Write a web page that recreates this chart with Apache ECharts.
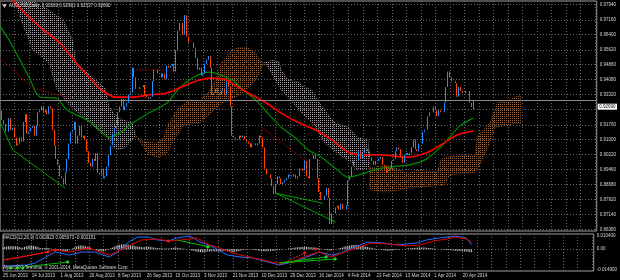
<!DOCTYPE html>
<html>
<head>
<meta charset="utf-8">
<script src="https://cdn.jsdelivr.net/npm/echarts@6/dist/echarts.min.js"></script>
<style>
  html, body { margin: 0; background: #000; }
  #chart { width: 620px; height: 280px; }
</style>
</head>
<body>
<div id="chart"></div>
<script>
// bar index 0 = 25 Jun 2013, one bar per day Sun..Fri
const dateLabels = ['25 Jun 2013', '14 Jul 2013', '1 Aug 2013', '20 Aug 2013', '8 Sep 2013', '26 Sep 2013',
  '15 Oct 2013', '3 Nov 2013', '21 Nov 2013', '10 Dec 2013', '29 Dec 2013', '16 Jan 2014', '4 Feb 2014',
  '23 Feb 2014', '13 Mar 2014', '1 Apr 2014', '20 Apr 2014']

// price tick labels (right axis), grid values
const priceTicks = [0.86380, 0.87140, 0.87920, 0.88680, 0.89460, 0.90220, 0.91000, 0.91760, 0.92540,
  0.93320, 0.94080, 0.94860, 0.95620, 0.96400, 0.97160, 0.97940]
const priceLabels = [0.86380, 0.87140, 0.87920, 0.88680, 0.89460, 0.90220, 0.91000, 0.91760,
  0.93320, 0.94080, 0.94860, 0.95620, 0.96400, 0.97160, 0.97940]

// last bar O H L C (title)
const lastBar = [0.92669, 0.92981, 0.92537, 0.92690]
const firstOpen = 0.9220

// daily closes
const closes = [
  0.9250, 0.9200, 0.9180, 0.9140,
  0.9140, 0.9210, 0.9150, 0.9160, 0.9110, 0.9070,
  0.9080, 0.9110, 0.9090, 0.9190, 0.9230, 0.9130,
  0.9140, 0.9160, 0.9170, 0.9120, 0.9170, 0.9240,
  0.9250, 0.9270, 0.9240, 0.9250, 0.9230, 0.9270,
  0.9260, 0.9150, 0.9070, 0.9000, 0.8970, 0.8910,
  0.8900, 0.8870, 0.8930, 0.9000, 0.9080, 0.9140,
  0.9150, 0.9190, 0.9080, 0.9120, 0.9170, 0.9110,
  0.9120, 0.9100, 0.9040, 0.8980, 0.8960, 0.9000,
  0.8990, 0.9030, 0.8930, 0.8920, 0.8950, 0.8900,
  0.8910, 0.8960, 0.9020, 0.9070, 0.9130, 0.9160,
  0.9170, 0.9240, 0.9270, 0.9310, 0.9250, 0.9270,
  0.9290, 0.9330, 0.9340, 0.9470, 0.9420, 0.9360,
  0.9360, 0.9370, 0.9370, 0.9380, 0.9330, 0.9320,
  0.9310, 0.9320, 0.9400, 0.9460, 0.9460, 0.9440,
  0.9440, 0.9420, 0.9440, 0.9410, 0.9480, 0.9470,
  0.9480, 0.9490, 0.9450, 0.9560, 0.9660, 0.9700,
  0.9700, 0.9640, 0.9740, 0.9630, 0.9600, 0.9600,
  0.9600, 0.9570, 0.9520, 0.9460, 0.9470, 0.9430,
  0.9440, 0.9490, 0.9510, 0.9530, 0.9470, 0.9330,
  0.9340, 0.9360, 0.9340, 0.9330, 0.9350, 0.9360,
  0.9330, 0.9400, 0.9370, 0.9270, 0.9120, 0.9110,
  0.9100, 0.9100, 0.9120, 0.9110, 0.9120, 0.9100,
  0.9090, 0.9080, 0.9060, 0.9080, 0.9080, 0.9070,
  0.9080, 0.9120, 0.9110, 0.9060, 0.8950, 0.8920,
  0.8920, 0.8900, 0.8860, 0.8820, 0.8870, 0.8910,
  0.8900, 0.8870, 0.8880, 0.8890, 0.8900, 0.8920,
  0.8915, 0.8910, 0.8920, 0.8900, 0.8910, 0.8950,
  0.8950, 0.8940, 0.8990, 0.8910, 0.8900, 0.9000,
  0.9000, 0.9020, 0.9000, 0.8900, 0.8830, 0.8790,
  0.8790, 0.8810, 0.8850, 0.8800, 0.8665, 0.8720,
  0.8720, 0.8750, 0.8760, 0.8740, 0.8770, 0.8740,
  0.8740, 0.8760, 0.8890, 0.8910, 0.8960, 0.8990,
  0.8990, 0.8990, 0.9040, 0.9000, 0.9030, 0.9050,
  0.9050, 0.9040, 0.9010, 0.8990, 0.8970, 0.8990,
  0.8990, 0.9000, 0.9010, 0.8970, 0.8960, 0.8930,
  0.8940, 0.8950, 0.8990, 0.9000, 0.9040, 0.9060,
  0.9050, 0.9010, 0.8980, 0.9020, 0.9030, 0.9020,
  0.9030, 0.9060, 0.9100, 0.9050, 0.9040, 0.9080,
  0.9080, 0.9140, 0.9150, 0.9150, 0.9220, 0.9240,
  0.9240, 0.9270, 0.9250, 0.9220, 0.9250, 0.9240,
  0.9240, 0.9290, 0.9370, 0.9450, 0.9420, 0.9400,
  0.9400, 0.9390, 0.9320, 0.9370, 0.9350, 0.9340,
  0.9340, 0.9350, 0.9350, 0.9290, 0.9267, 0.92690
]

// moving averages [bar, price]
const redMA = [[0, 0.9880], [11, 0.9777], [22, 0.9679], [33, 0.9597], [42, 0.9494], [49, 0.9422],
  [56, 0.9355], [64, 0.9318], [73, 0.9318], [82, 0.9329], [92, 0.9339], [100, 0.9370], [110, 0.9406],
  [117, 0.9416], [125, 0.9406], [132, 0.9365], [146, 0.9293], [155, 0.9236], [165, 0.9185],
  [174, 0.9149], [183, 0.9097], [192, 0.9035], [201, 0.9020], [210, 0.9020], [225, 0.9009],
  [236, 0.9035], [243, 0.9072], [252, 0.9123], [261, 0.9144]]
const greenMA = [[0, 0.9684], [5, 0.9612], [11, 0.9509], [16, 0.9422], [22, 0.9319], [31, 0.9313],
  [37, 0.9252], [48, 0.9200], [55, 0.9149], [60, 0.9113], [66, 0.9133], [73, 0.9185], [82, 0.9236],
  [92, 0.9288], [99, 0.9365], [107, 0.9422], [115, 0.9447], [128, 0.9406], [134, 0.9355],
  [141, 0.9303], [146, 0.9252], [155, 0.9164], [163, 0.9108], [170, 0.9046], [177, 0.9010],
  [186, 0.8943], [192, 0.8906], [201, 0.8927], [210, 0.8953], [219, 0.8963], [225, 0.8968],
  [234, 0.8994], [243, 0.9061], [248, 0.9113], [254, 0.9174], [261, 0.9210]]

// ichimoku cloud pieces: upper edge, lower edge, bullish (span A on top)
const cloudTop1 = [[5, 0.9973], [18, 0.9813], [27, 0.9767], [35, 0.9715], [40, 0.9612], [42, 0.9494],
  [51, 0.9422], [58, 0.9365], [60, 0.9278], [64, 0.9216], [73, 0.9185], [75, 0.9118]]
const cloudBot1 = [[5, 0.9870], [8, 0.9813], [14, 0.9653], [18, 0.9561], [27, 0.9494], [31, 0.9365],
  [38, 0.9278], [48, 0.9200], [60, 0.9097], [64, 0.9046], [69, 0.9056], [75, 0.9118]]
const cloudTop2 = [[75, 0.9118], [78, 0.9092], [86, 0.9082], [90, 0.9107], [93, 0.9185], [99, 0.9267],
  [104, 0.9303], [110, 0.9303], [115, 0.9344], [119, 0.9406], [122, 0.9494], [128, 0.9561],
  [132, 0.9576], [137, 0.9571], [141, 0.9545], [144, 0.9494], [146, 0.9499]]
const cloudBot2 = [[75, 0.9118], [82, 0.9020], [88, 0.9010], [92, 0.9030], [96, 0.9097], [101, 0.9174],
  [110, 0.9185], [115, 0.9226], [121, 0.9278], [126, 0.9303], [132, 0.9329], [137, 0.9365],
  [141, 0.9406], [145, 0.9484], [146, 0.9499]]
const cloudTop3 = [[146, 0.9499], [150, 0.9509], [154, 0.9499], [155, 0.9458], [159, 0.9406],
  [165, 0.9396], [168, 0.9370], [172, 0.9355], [175, 0.9303], [179, 0.9252], [185, 0.9185],
  [192, 0.9164], [197, 0.9113], [203, 0.9097], [204, 0.8953]]
const cloudBot3 = [[146, 0.9499], [155, 0.9355], [165, 0.9252], [174, 0.9164], [179, 0.9082],
  [186, 0.9030], [194, 0.8979], [197, 0.8943], [204, 0.8953]]
const cloudTop4 = [[204, 0.8953], [214, 0.8968], [225, 0.8927], [230, 0.8943], [241, 0.8932],
  [243, 0.8994], [245, 0.9010], [262, 0.9020], [263, 0.9113], [270, 0.9185], [273, 0.9252],
  [274, 0.9288], [280, 0.9303], [287, 0.9329]]
const cloudBot4 = [[204, 0.8840], [214, 0.8829], [225, 0.8850], [245, 0.8865], [248, 0.8917],
  [262, 0.8932], [266, 0.8994], [270, 0.9082], [273, 0.9164], [287, 0.9185]]
const cloudBull = [false, true, false, true]

// drawn trend lines on price
const priceRedLines = [[[0, 0.9519], [18, 0.9365], [37, 0.9318]], [[144, 0.9164], [170, 0.8979]],
  [[75, 0.9458], [92, 0.9458]]]
const priceGreenLines = [[[0, 0.9190], [7, 0.9046], [36, 0.8850]], [[152, 0.8824], [178, 0.8772]],
  [[152, 0.8824], [185, 0.8675]]]

// MACD lines [bar, value]
const macdMain = [[0, -0.0115], [13, -0.0108], [18, -0.0094], [24, -0.0053], [29, -0.0019],
  [37, -0.0040], [44, -0.0019], [51, -0.0019], [59, -0.0053], [64, -0.0019], [70, 0.0049],
  [75, 0.0083], [81, 0.0083], [86, 0.0063], [92, 0.0056], [97, 0.0077], [104, 0.0090], [110, 0.0049],
  [117, 0.0015], [125, -0.0040], [132, -0.0053], [139, -0.0060], [154, -0.0108], [161, -0.0088],
  [168, -0.0060], [176, -0.0019], [183, -0.0040], [188, -0.0026], [196, 0.0015], [203, 0.0049],
  [212, 0.0042], [219, 0.0029], [225, 0.0036], [230, 0.0042], [236, 0.0063], [243, 0.0077],
  [252, 0.0090], [258, 0.0077], [261, 0.002923]]
const macdSignal = [[0, -0.0074], [11, -0.0053], [24, -0.0019], [29, -0.0005], [37, -0.0019],
  [48, 0.0008], [59, -0.0040], [68, 0.0008], [77, 0.0063], [86, 0.0070], [92, 0.0056], [99, 0.0063],
  [108, 0.0077], [115, 0.0029], [119, 0.0015], [128, -0.0026], [137, -0.0053], [152, -0.0094],
  [161, -0.0088], [170, -0.0040], [176, -0.0019], [183, -0.0053], [190, -0.0019], [198, 0.0015],
  [205, 0.0042], [214, 0.0036], [225, 0.0022], [232, 0.0029], [240, 0.0056], [247, 0.0070],
  [252, 0.0083], [258, 0.0070], [261, 0.005073]]
// histogram, thousandths
const macdHist = [
  1.2, 1.5, 1.8, 2.0, 2.0, 2.2, 2.1, 2.0, 1.8,
  1.5, 1.2, 1.0,
  1.6, 2.0, 2.4, 2.6, 2.5,
  2.2, 2.0, 1.6, 1.2, 0.8,
  0.6, 0.8, 1.0, 0.9, 0.6, 0.3,
  0.1, -0.3, -0.6, -0.9, -1.2,
  -1.6, -1.8, -1.6, -1.2, -0.6,
  0.2, 0.8, 1.4, 1.9, 2.3, 2.5, 2.6, 2.4, 2.1, 1.7, 1.2, 0.7,
  0.2, -0.3, -0.8, -1.2, -1.5, -1.6, -1.4, -1.0,
  -0.5, 0.0, 0.6,
  1.2, 1.8, 2.3, 2.8, 3.1, 3.3, 3.4, 3.3, 3.2, 3.0, 2.8, 2.6, 2.4, 2.1,
  1.9, 1.7, 1.5, 1.4, 1.5, 1.6, 1.7, 1.6, 1.4, 1.2, 1.0, 0.8, 0.7, 0.6, 0.5, 0.4,
  0.4, 0.5, 0.7, 0.9, 1.0, 1.1, 1.0, 0.9,
  0.7, 0.5, 0.3, 0.1, -0.2, -0.5, -0.8, -1.1, -1.4, -1.7, -1.9,
  -2.0, -2.1, -2.0, -1.8, -1.6, -1.5, -1.4, -1.4, -1.5, -1.6, -1.6, -1.5, -1.4, -1.3, -1.3, -1.4,
  -1.6, -1.8, -1.9, -1.8, -1.6, -1.4,
  -1.1, -0.8, -0.5, -0.3, -0.2, -0.1, -0.2, -0.3, -0.5,
  -0.7, -0.9, -1.1, -1.3, -1.4, -1.5, -1.4, -1.3, -1.2, -1.1, -1.0, -0.9, -0.7, -0.5, -0.4, -0.2,
  0.0, 0.2, 0.4,
  0.6, 0.8, 1.0, 1.2, 1.3, 1.4, 1.5, 1.5, 1.6, 1.6, 1.5, 1.4, 1.3, 1.2, 1.0, 0.8, 0.6, 0.3, 0.0,
  -0.3, -0.6, -0.8, -0.9, -0.8, -0.6, -0.3, 0.0,
  0.4, 0.8, 1.2, 1.6, 2.0, 2.3, 2.5, 2.7, 2.8, 2.8, 2.7, 2.6, 2.4, 2.2, 2.0, 1.7, 1.5, 1.2, 1.0,
  0.7, 0.4, 0.2,
  -0.1, -0.3, -0.5, -0.7, -0.9, -1.0, -1.0, -0.9, -0.8, -0.6, -0.5, -0.3, -0.2, -0.1, 0.0, 0.2,
  0.4, 0.6, 0.7, 0.8, 0.9, 1.0, 1.1, 1.1, 1.2, 1.2, 1.1, 1.0, 0.9, 0.8, 0.6, 0.5,
  0.3, 0.1, -0.1, -0.3, -0.4, -0.5, -0.6, -0.6, -0.7, -0.8, -0.9, -1.0, -1.1, -1.2, -1.3, -1.4,
  -1.5, -1.6, -1.8, -2.0, -2.15
]
// divergence marks on MACD
const macdRedLines = [[[0, -0.0074], [25, -0.0019]], [[154, -0.0108], [168, -0.0026]]]
const macdGreenLines = [[[11, -0.0122], [36, -0.0088]], [[97, 0.0063], [115, 0.0015]],
  [[154, -0.0094], [180, -0.0053]], [[154, -0.0094], [185, -0.0067]]]
const macdRedMarks = [[25, -0.0019], [29, -0.0005], [48, 0.0008], [92, 0.0056], [168, -0.0026], [174, 0.0001]]
const macdGreenMarks = [[4, -0.0129], [8, -0.0129], [11, -0.0129], [36, -0.0088], [114, 0.0015],
  [180, -0.0053], [185, -0.0067]]

const chart = echarts.init(document.getElementById('chart'))

const FONT = 'Liberation Sans'
const textCol = '#d8d8d8'
const gridCol = '#686868'

// dotted fill like MT4 hatched cloud
const makeDots = (color) => {
  const c = document.createElement('canvas')
  c.width = 2
  c.height = 2
  const ctx = c.getContext('2d')
  ctx.fillStyle = color
  ctx.fillRect(0, 0, 1, 1)
  return { image: c, repeat: 'repeat' }
}
const thistleDots = makeDots('#a8a2a8')
const brownDots = makeDots('#9c6436')

const cloudPieces = [
  { top: cloudTop1, bottom: cloudBot1 },
  { top: cloudTop2, bottom: cloudBot2 },
  { top: cloudTop3, bottom: cloudBot3 },
  { top: cloudTop4, bottom: cloudBot4 }
]

const candles = closes.map((c, i) => {
  if (i === closes.length - 1) {
    return [i, lastBar[0], lastBar[3], lastBar[2], lastBar[1]]
  }
  const o = i === 0 ? firstOpen : closes[i - 1]
  return [i, o, c, Math.min(o, c), Math.max(o, c)]
})

const simpleLine = (data, color, width, type, xi, yi) => ({
  type: 'line',
  xAxisIndex: xi,
  yAxisIndex: yi,
  data: data,
  showSymbol: false,
  silent: true,
  lineStyle: { color: color, width: width, type: type },
  z: 4
})

const xAxisBase = (gridIndex, showLabels) => ({
  type: 'value',
  gridIndex: gridIndex,
  min: 0,
  max: 329,
  interval: 8,
  axisLine: { show: false },
  axisTick: { show: false },
  splitLine: { show: true, lineStyle: { color: gridCol, type: [1, 2], width: 1 } },
  axisLabel: {
    show: showLabels,
    align: 'left',
    margin: 2,
    fontSize: 4.5,
    fontFamily: FONT,
    color: textCol,
    formatter: (v) => (v % 16 === 0 && v / 16 < dateLabels.length) ? dateLabels[v / 16] : ''
  }
})

chart.setOption({
  backgroundColor: '#000',
  animation: false,
  title: [
    {
      text: 'AUDUSD,Daily  ' + lastBar.map(v => v.toFixed(5)).join(' '),
      left: 9, top: 3, padding: 0,
      textStyle: { color: textCol, fontSize: 4.5, fontFamily: FONT, fontWeight: 'normal' }
    },
    {
      text: 'MACD(12,26,9) 0.002923 0.005073 -0.002151',
      left: 3, top: 235, padding: 0,
      textStyle: { color: textCol, fontSize: 4.5, fontFamily: FONT, fontWeight: 'normal' }
    },
    {
      text: 'Alpari(UK) Terminal, © 2001-2014, MetaQuotes Software Corp.',
      left: 3, top: 265, padding: 0,
      textStyle: { color: textCol, fontSize: 4.5, fontFamily: FONT, fontWeight: 'normal' }
    }
  ],
  graphic: [{
    type: 'polygon',
    shape: { points: [[2, 4], [7, 4], [4.5, 8]] },
    style: { fill: '#c8c8c8' }
  }],
  grid: [
    { left: 0, right: 20, top: 1, height: 230, show: true, borderColor: '#a0a0a0', borderWidth: 1 },
    { left: 0, right: 20, top: 234, height: 37, show: true, borderColor: '#a0a0a0', borderWidth: 1 }
  ],
  xAxis: [xAxisBase(0, false), xAxisBase(1, true)],
  yAxis: [
    {
      type: 'value',
      gridIndex: 0,
      position: 'right',
      min: 0.86292,
      max: 0.98130,
      axisLine: { show: false },
      axisTick: { show: false, customValues: priceTicks },
      splitLine: { show: true, lineStyle: { color: gridCol, type: [1, 2], width: 1 } },
      axisLabel: {
        customValues: priceLabels,
        margin: 3,
        fontSize: 4.5,
        fontFamily: FONT,
        color: textCol,
        formatter: (v) => v.toFixed(5)
      }
    },
    {
      type: 'value',
      gridIndex: 0,
      position: 'right',
      min: 0.86292,
      max: 0.98130,
      axisLine: { show: false },
      axisTick: { show: false },
      splitLine: { show: false },
      axisLabel: {
        customValues: [lastBar[3]],
        margin: 1,
        fontSize: 4.5,
        fontFamily: FONT,
        color: '#000',
        backgroundColor: '#ffffff',
        padding: [0.5, 1.5],
        formatter: (v) => v.toFixed(5)
      }
    },
    {
      type: 'value',
      gridIndex: 1,
      position: 'right',
      min: -0.0149,
      max: 0.0104,
      axisLine: { show: false },
      axisTick: { show: false, customValues: [0] },
      splitLine: { show: true, lineStyle: { color: gridCol, type: [1, 2], width: 1 } },
      axisLabel: {
        customValues: [-0.0139, 0, 0.0090],
        margin: 3,
        fontSize: 4.5,
        fontFamily: FONT,
        color: textCol,
        formatter: (v) => v > 0 ? '0.010400' : (v < 0 ? '-0.014900' : '0.00')
      }
    }
  ],
  series: [
    {
      type: 'custom',
      xAxisIndex: 0,
      yAxisIndex: 0,
      clip: true,
      silent: true,
      z: 1,
      data: cloudPieces.map((p, i) => [i]),
      renderItem: (params, api) => {
        const piece = cloudPieces[params.dataIndex]
        const bull = cloudBull[params.dataIndex]
        const pts = piece.top.map(p => api.coord(p))
          .concat(piece.bottom.slice().reverse().map(p => api.coord(p)))
        return {
          type: 'polygon',
          shape: { points: pts },
          style: {
            fill: bull ? brownDots : thistleDots,
            stroke: bull ? 'rgba(190,120,60,0.55)' : 'rgba(180,165,180,0.45)',
            lineWidth: 0.8,
            lineDash: [1, 1]
          }
        }
      }
    },
    ...priceRedLines.map(l => simpleLine(l, '#8b0000', 1, [2, 1], 0, 0)),
    ...priceGreenLines.map(l => simpleLine(l, '#00a000', 1, 'solid', 0, 0)),
    Object.assign(simpleLine(greenMA, '#008c00', 1.2, 'solid', 0, 0), { smooth: 0.3 }),
    Object.assign(simpleLine(redMA, '#ff0000', 1.6, 'solid', 0, 0), { smooth: 0.3 }),
    {
      type: 'candlestick',
      xAxisIndex: 0,
      yAxisIndex: 0,
      encode: { x: 0, y: [1, 2, 3, 4] },
      data: candles,
      barWidth: 1,
      silent: true,
      z: 5,
      itemStyle: {
        color: '#1e90ff',
        color0: '#ff4500',
        borderColor: '#1e90ff',
        borderColor0: '#ff4500',
        borderWidth: 1
      },
      markLine: {
        silent: true,
        symbol: 'none',
        label: { show: false },
        lineStyle: { color: '#8a8a8a', type: 'solid', width: 1 },
        data: [{ yAxis: lastBar[3] }]
      }
    },
    {
      type: 'bar',
      xAxisIndex: 1,
      yAxisIndex: 2,
      data: macdHist.map((v, i) => [i, v / 1000]),
      barWidth: 1,
      silent: true,
      itemStyle: { color: '#c0c0c0' },
      z: 2
    },
    simpleLine(macdMain, '#2a6cff', 1, 'solid', 1, 2),
    simpleLine(macdSignal, '#e00000', 1, 'solid', 1, 2),
    ...macdRedLines.map(l => simpleLine(l, '#ff2020', 1, [2, 1], 1, 2)),
    ...macdGreenLines.map(l => simpleLine(l, '#00c000', 1, 'solid', 1, 2)),
    {
      type: 'scatter',
      xAxisIndex: 1,
      yAxisIndex: 2,
      data: macdRedMarks,
      symbol: 'diamond',
      symbolSize: 4,
      silent: true,
      itemStyle: { color: '#ff2020' },
      z: 6
    },
    {
      type: 'scatter',
      xAxisIndex: 1,
      yAxisIndex: 2,
      data: macdGreenMarks,
      symbol: 'diamond',
      symbolSize: 4,
      silent: true,
      itemStyle: { color: '#20ff20' },
      z: 6
    }
  ]
})
</script>
</body>
</html>
